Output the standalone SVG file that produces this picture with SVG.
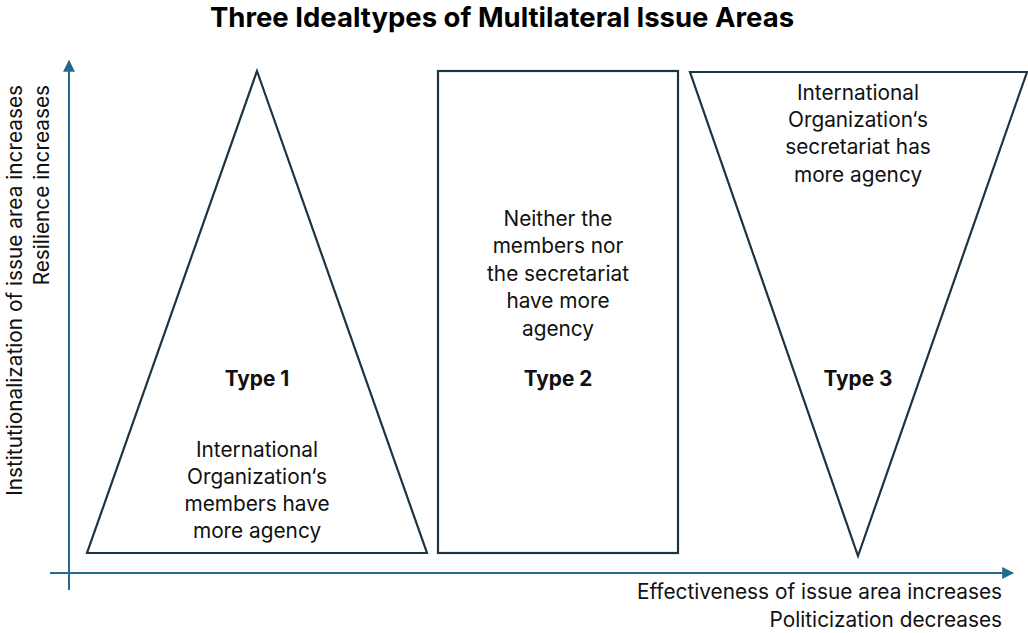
<svg xmlns="http://www.w3.org/2000/svg" width="1028" height="633" viewBox="0 0 1028 633">
<defs>
<style>
.shape{fill:#fff;stroke:#1b3545;stroke-width:2.2;stroke-linejoin:miter}
.axis{stroke:#236a8c;stroke-width:2;fill:none}
.t{font-family:Inter,"Liberation Sans",sans-serif;font-size:20.8px;fill:#111;text-anchor:middle}
.b{font-weight:bold}
.lbl{font-family:Inter,"Liberation Sans",sans-serif;font-size:20.8px;fill:#111;text-anchor:end}
.title{font-family:Inter,"Liberation Sans",sans-serif;font-size:27.5px;font-weight:bold;fill:#000;text-anchor:middle}
</style>
<marker id="ah" viewBox="0 0 10 10" refX="9" refY="5" markerWidth="6" markerHeight="6" orient="auto" markerUnits="strokeWidth">
<path d="M0,0 L10,5 L0,10 z" fill="#236a8c"/>
</marker>
</defs>
<rect width="1028" height="633" fill="#fff"/>
<text class="title" x="502" y="27">Three Idealtypes of Multilateral Issue Areas</text>
<g id="axes">
<line class="axis" x1="69" y1="590" x2="69" y2="61" marker-end="url(#ah)"/>
<line class="axis" x1="50" y1="573" x2="1013" y2="573" marker-end="url(#ah)"/>
<text class="lbl" transform="translate(22,85) rotate(-90)">Institutionalization of issue area increases</text>
<text class="lbl" transform="translate(49,85) rotate(-90)">Resilience increases</text>
<text class="lbl" x="1002" y="599">Effectiveness of issue area increases</text>
<text class="lbl" x="1002" y="627">Politicization decreases</text>
</g>
<g id="type1">
<polygon class="shape" points="257,71 427,553 87,553"/>
<text class="t b" x="257" y="386">Type 1</text>
<text class="t" x="257" y="457">International</text>
<text class="t" x="257" y="484">Organization‘s</text>
<text class="t" x="257" y="511">members have</text>
<text class="t" x="257" y="538">more agency</text>
</g>
<g id="type2">
<rect class="shape" x="438" y="71" width="240" height="482"/>
<text class="t b" x="558" y="386">Type 2</text>
<text class="t" x="558" y="226">Neither the</text>
<text class="t" x="558" y="253">members nor</text>
<text class="t" x="558" y="281">the secretariat</text>
<text class="t" x="558" y="308">have more</text>
<text class="t" x="558" y="336">agency</text>
</g>
<g id="type3">
<polygon class="shape" points="690,72 1027,72 858,556"/>
<text class="t b" x="858" y="386">Type 3</text>
<text class="t" x="858" y="100">International</text>
<text class="t" x="858" y="127">Organization‘s</text>
<text class="t" x="858" y="154">secretariat has</text>
<text class="t" x="858" y="182">more agency</text>
</g>
</svg>
